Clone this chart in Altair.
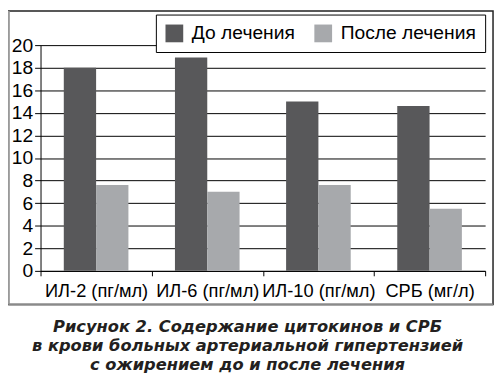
import altair as alt
import pandas as pd

categories = ["ИЛ-2 (пг/мл)", "ИЛ-6 (пг/мл)", "ИЛ-10 (пг/мл)", "СРБ (мг/л)"]
groups = ["До лечения", "После лечения"]
before = [18.0, 18.9, 15.0, 14.6]
after = [7.6, 7.0, 7.6, 5.5]
colors = ["#58585a", "#a7a9ac"]
y_ticks = list(range(0, 21, 2))
caption_lines = [
    "Рисунок 2.  Содержание цитокинов и СРБ",
    "в крови больных артериальной гипертензией",
    "с ожирением до и после лечения",
]

rows = []
for c, b, a in zip(categories, before, after):
    rows.append({"cat": c, "group": groups[0], "value": b})
    rows.append({"cat": c, "group": groups[1], "value": a})
df = pd.DataFrame(rows)

FONT = "Liberation Sans"

bars = alt.Chart(df).mark_bar().encode(
    x=alt.X(
        "cat:N",
        sort=categories,
        scale=alt.Scale(paddingInner=0, paddingOuter=0),
        axis=alt.Axis(
            title=None, labelAngle=0, tickBand="extent", domainColor="black",
            tickColor="black", labelFontSize=18.5, labelColor="black", labelFont=FONT,
            tickSize=5, labelPadding=6, grid=False, domainWidth=1,
        ),
    ),
    y=alt.Y(
        "value:Q",
        scale=alt.Scale(domain=[0, 20], nice=False),
        axis=alt.Axis(
            title=None, values=y_ticks, grid=True, gridColor="black", gridWidth=1,
            gridOpacity=1, domainColor="black", tickColor="black", tickSize=6,
            labelFontSize=19.5, labelColor="black", labelFont=FONT, labelPadding=2,
        ),
    ),
    xOffset=alt.XOffset(
        "group:N", sort=groups, scale=alt.Scale(paddingOuter=0.72, paddingInner=0)
    ),
    color=alt.Color(
        "group:N",
        sort=groups,
        scale=alt.Scale(domain=groups, range=colors),
        legend=alt.Legend(
            orient="none", legendX=117, legendY=-31, direction="horizontal",
            title=None, symbolType="square", symbolSize=324, strokeColor="black",
            fillColor="white", padding=9, labelFontSize=19.5, labelFont=FONT,
            labelColor="black", labelOffset=8, columnPadding=19,
            symbolStrokeWidth=0, symbolOpacity=1,
        ),
    ),
)

frame_df = pd.DataFrame({"k": [0]})
frame_black = alt.Chart(frame_df).mark_rect(
    fill=None, stroke="#222222", strokeWidth=1.5
).encode(
    x=alt.value(-32.5), x2=alt.value(459), y=alt.value(-34.5), y2=alt.value(263)
)
frame_left = alt.Chart(frame_df).mark_rule(color="#9a9a9a", strokeWidth=2.5).encode(
    x=alt.value(-32.5), y=alt.value(-34.5), y2=alt.value(263)
)
frame_bottom = alt.Chart(frame_df).mark_rule(color="#8a8a8a", strokeWidth=2).encode(
    x=alt.value(-32.5), x2=alt.value(459), y=alt.value(263)
)

caption = alt.Chart(pd.DataFrame({"t": ["\n".join(caption_lines)]})).mark_text(
    font="DejaVu Sans", fontStyle="italic", fontWeight="bold", fontSize=16.5,
    lineHeight=19.5, baseline="top", align="center", lineBreak="\n",
    color="#231f20",
).encode(text="t:N", x=alt.value(210), y=alt.value(278))

chart = alt.layer(frame_black, frame_left, frame_bottom, bars, caption).properties(
    width=451,
    height=229,
    autosize=alt.AutoSizeParams(type="none"),
    padding={"left": 33, "top": 35, "right": 10, "bottom": 105},
    background="white",
).configure_view(stroke=None)

chart.save("out.html", embed_options={"renderer": "svg", "actions": False})
